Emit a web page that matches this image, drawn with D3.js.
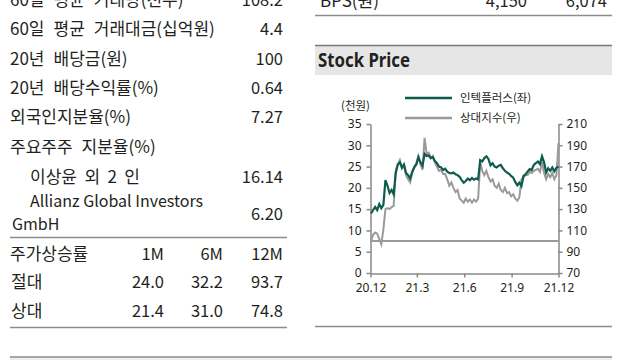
<!DOCTYPE html>
<html><head><meta charset="utf-8">
<script src="https://cdn.jsdelivr.net/npm/d3@7"></script>
<style>
body{margin:0;background:#fff;}
svg text{font-family:"Noto Sans CJK KR","Noto Sans",sans-serif;fill:#231f20;}
</style></head><body>
<svg id="c" width="640" height="360"></svg>
<script>
// ---- table data ----
const infoLabels = ["60일 평균 거래량(천주)","60일 평균 거래대금(십억원)","20년 배당금(원)","20년 배당수익률(%)","외국인지분율(%)","주요주주 지분율(%)","이상윤 외 2 인"];
const infoValues = ["108.2","4.4","100","0.64","7.27","","16.14"];
const holder2Label = ["Allianz Global Investors","GmbH"];
const holder2Value = "6.20";
const perfHeader = ["주가상승률","1M","6M","12M"];
const perfLabels = ["절대","상대"];
const perf1M = [24.0, 21.4];
const perf6M = [32.2, 31.0];
const perf12M = [93.7, 74.8];
const bpsLabel = "BPS(원)";
const bpsValues = ["4,150","6,074"];

// ---- chart data ----
const seriesNames = ["인텍플러스(좌)","상대지수(우)"];
const dates = ["2020-12-02","2020-12-06","2020-12-10","2020-12-14","2020-12-18","2020-12-22","2020-12-26","2020-12-30",
"2021-01-03","2021-01-07","2021-01-11","2021-01-15","2021-01-19","2021-01-23","2021-01-27","2021-01-31",
"2021-02-04","2021-02-08","2021-02-12","2021-02-16","2021-02-20","2021-02-24","2021-02-28",
"2021-03-04","2021-03-08","2021-03-12","2021-03-16","2021-03-20","2021-03-24","2021-03-28",
"2021-04-01","2021-04-05","2021-04-09","2021-04-13","2021-04-17","2021-04-21","2021-04-25","2021-04-29",
"2021-05-03","2021-05-07","2021-05-11","2021-05-15","2021-05-19","2021-05-23","2021-05-27","2021-05-31",
"2021-06-04","2021-06-08","2021-06-12","2021-06-16","2021-06-20","2021-06-24","2021-06-28",
"2021-07-02","2021-07-06","2021-07-10","2021-07-14","2021-07-18","2021-07-22","2021-07-26","2021-07-30",
"2021-08-03","2021-08-07","2021-08-11","2021-08-15","2021-08-19","2021-08-23","2021-08-27","2021-08-31",
"2021-09-04","2021-09-08","2021-09-12","2021-09-16","2021-09-20","2021-09-24","2021-09-28",
"2021-10-02","2021-10-06","2021-10-10","2021-10-14","2021-10-18","2021-10-22","2021-10-26","2021-10-30",
"2021-11-03","2021-11-07","2021-11-11","2021-11-15","2021-11-19","2021-11-23","2021-11-27","2021-12-01"];
const stockPrice = [14.0,14.8,15.5,14.8,16.2,15.2,16.0,21.8,
 20.5,18.8,19.5,18.5,23.5,25.5,26.0,24.8,
 25.5,23.5,23.0,22.2,23.8,24.8,25.5,
 27.2,26.0,25.2,28.0,27.5,27.6,27.0,
 27.2,26.3,25.8,25.0,24.8,24.2,24.5,23.8,
 23.5,23.4,23.6,23.2,23.0,22.6,21.8,21.2,
 21.6,22.2,21.8,22.3,21.9,22.2,22.0,
 26.5,26.2,27.0,27.4,26.8,25.3,25.8,25.0,
 24.8,25.2,25.4,24.6,24.0,23.6,23.3,22.8,
 22.4,21.4,20.6,21.2,20.4,22.8,23.2,
 23.8,24.4,24.2,25.4,25.8,26.2,25.6,27.4,
 26.0,23.6,24.6,24.0,24.8,23.9,24.7,25.0];
const relIndex = [100,106,108,107,102,97,111,130,
 131,130,132,133,166,172,176,168,
 171,162,158,155,164,170,173,
 180,172,167,197,182,183,178,
 180,174,170,166,167,163,163,158,
 152,155,150,146,148,140,138,136,
 140,137,139,136,139,137,140,
 174,166,162,166,160,156,158,152,
 150,154,148,146,150,145,146,142,
 144,140,138,141,158,160,162,
 162,165,164,166,167,168,165,174,
 164,158,163,160,164,158,162,192];
const leftTicks = [0,5,10,15,20,25,30,35];
const rightTicks = [70,90,110,130,150,170,190,210];
const xTickDates = ["2020-12-01","2021-03-01","2021-06-01","2021-09-01","2021-12-01"];
const baseLine = 100;

// ---- layout (not data) ----
const rowBase = [6,35,65,94,123,153,183];
const labelWidths = [185,208,118,152,0,149,110]; // target widths of multi-word labels
const KFS = 17, NFS = 16.5;

const svg = d3.select("#c");
const GREEN = "#0d5c4e", GRAY = "#9a9a9a", RULE = "#8c8c8c";

// text whose word gaps are widened (within limits) toward a given width
function spaced(x, y, str, width){
  const t = svg.append("text").attr("x",x).attr("y",y).attr("font-size",KFS);
  const words = str.split(" ");
  const spans = words.map((w,k)=>t.append("tspan").text(w));
  if(words.length>1){
    const natural = d3.sum(spans, s=>s.node().getComputedTextLength());
    const gap = Math.min(9, Math.max(4.5,(width-natural)/(words.length-1)));
    spans.forEach((s,k)=>{ if(k) s.attr("dx",gap); });
  }
  return t;
}

// ---- left table ----
infoLabels.forEach((t,i)=>{
  spaced(i===6?30:10, rowBase[i], t, labelWidths[i]);
  if(infoValues[i]) svg.append("text").attr("x",283).attr("y",rowBase[i]).attr("font-size",NFS).attr("text-anchor","end").text(infoValues[i]);
});
svg.append("text").attr("x",30).attr("y",207).attr("font-size",16).text(holder2Label[0]);
svg.append("text").attr("x",12).attr("y",230).attr("font-size",16).text(holder2Label[1]);
svg.append("text").attr("x",283).attr("y",220).attr("font-size",NFS).attr("text-anchor","end").text(holder2Value);
svg.append("line").attr("x1",10).attr("x2",287).attr("y1",237.5).attr("y2",237.5).attr("stroke",RULE).attr("stroke-width",1.5);
const colX = [10,164,223,283];
perfHeader.forEach((t,j)=>{
  svg.append("text").attr("x",colX[j]).attr("y",260).attr("font-size",j?NFS:KFS).attr("text-anchor",j?"end":"start").text(t);
});
const perfCols = [perf1M, perf6M, perf12M];
perfLabels.forEach((t,i)=>{
  const y = [288,317][i];
  svg.append("text").attr("x",11).attr("y",y).attr("font-size",KFS).text(t);
  perfCols.forEach((c,j)=>{
    svg.append("text").attr("x",colX[j+1]).attr("y",y).attr("font-size",NFS).attr("text-anchor","end").text(d3.format(".1f")(c[i]));
  });
});
svg.append("line").attr("x1",10).attr("x2",287).attr("y1",327.5).attr("y2",327.5).attr("stroke",RULE).attr("stroke-width",1.5);

// ---- right top ----
svg.append("text").attr("x",320).attr("y",7).attr("font-size",KFS).text(bpsLabel);
svg.append("text").attr("x",527).attr("y",7).attr("font-size",NFS).attr("text-anchor","end").text(bpsValues[0]);
svg.append("text").attr("x",607).attr("y",7).attr("font-size",NFS).attr("text-anchor","end").text(bpsValues[1]);
svg.append("line").attr("x1",315).attr("x2",612).attr("y1",15.5).attr("y2",15.5).attr("stroke",RULE).attr("stroke-width",1.5);

// Stock Price header
svg.append("rect").attr("x",315).attr("y",45).attr("width",297).attr("height",30).attr("fill","#e6e6e6");
svg.append("line").attr("x1",315).attr("x2",612).attr("y1",45.5).attr("y2",45.5).attr("stroke","#777").attr("stroke-width",1.5);
svg.append("text").attr("x",318).attr("y",67).attr("font-size",19).attr("font-weight","bold")
  .style("font-family","'Noto Sans',sans-serif").attr("textLength",92).attr("lengthAdjust","spacingAndGlyphs").text("Stock Price");

// bottom rules
svg.append("line").attr("x1",315).attr("x2",612).attr("y1",326.5).attr("y2",326.5).attr("stroke",RULE).attr("stroke-width",1.5);
svg.append("rect").attr("x",10).attr("y",357).attr("width",602).attr("height",3).attr("fill","#eeeeee");
svg.append("line").attr("x1",10).attr("x2",612).attr("y1",357).attr("y2",357).attr("stroke",RULE).attr("stroke-width",1.5);

// ---- chart ----
const parse = d3.timeParse("%Y-%m-%d");
const xd = dates.map(parse);
const x = d3.scaleTime().domain([parse("2020-12-01"), parse("2021-12-01")]).range([370.5, 558.5]);
const yL = d3.scaleLinear().domain([0,35]).range([273,124]);
const yR = d3.scaleLinear().domain([70,210]).range([273,124]);

const gL = svg.append("g").attr("transform","translate(370.5,0)")
  .call(d3.axisLeft(yL).tickValues(leftTicks).tickSize(4).tickSizeOuter(0).tickPadding(5));
const gR = svg.append("g").attr("transform","translate(558.5,0)")
  .call(d3.axisRight(yR).tickValues(rightTicks).tickSize(4).tickSizeOuter(0).tickPadding(4));
const gB = svg.append("g").attr("transform","translate(0,273.5)")
  .call(d3.axisBottom(x).tickValues(xTickDates.map(parse)).tickFormat(d3.timeFormat("%y.%-m")).tickSize(4).tickSizeOuter(0).tickPadding(6));
[gL,gR,gB].forEach(g=>{
  g.selectAll("path,line").attr("stroke","#888").attr("stroke-width",1.5);
  g.selectAll("text").attr("font-size",12).style("font-family","'Noto Sans',sans-serif").attr("fill","#333");
});

svg.append("line").attr("x1",370.5).attr("x2",558.5).attr("y1",yR(baseLine)).attr("y2",yR(baseLine))
  .attr("stroke",GRAY).attr("stroke-width",2);

const lineR = d3.line().x((d,i)=>x(xd[i])).y(d=>yR(d));
const lineL = d3.line().x((d,i)=>x(xd[i])).y(d=>yL(d));
svg.append("path").attr("d",lineR(relIndex)).attr("fill","none").attr("stroke",GRAY).attr("stroke-width",2);
svg.append("path").attr("d",lineL(stockPrice)).attr("fill","none").attr("stroke",GREEN).attr("stroke-width",2.2);

// legend
svg.append("text").attr("x",341).attr("y",110).attr("font-size",11.5).attr("fill","#333").text("(천원)");
[[GREEN,98],[GRAY,118]].forEach(([c,y],i)=>{
  svg.append("line").attr("x1",405).attr("x2",452).attr("y1",y).attr("y2",y).attr("stroke",c).attr("stroke-width",2.5);
  svg.append("text").attr("x",460).attr("y",y+4).attr("font-size",11.5).attr("fill","#333").text(seriesNames[i]);
});
</script>
</body></html>
